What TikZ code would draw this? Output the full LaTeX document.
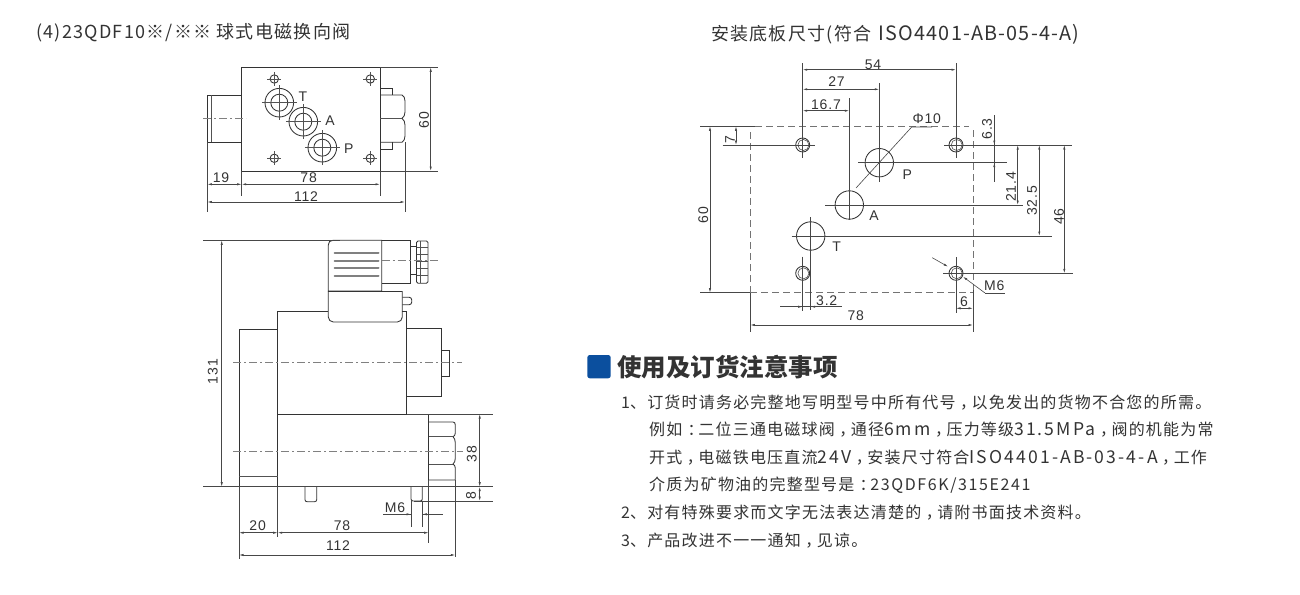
\documentclass[tikz,border=0pt]{standalone}
\usepackage{fontspec}
\usepackage{xcolor}
\setmainfont{Liberation Sans}
\newfontfamily\cjk{Noto Sans CJK SC}
\newfontfamily\cjkwide[LetterSpace=7.5]{Noto Sans CJK SC}
\newfontfamily\titlefont[LetterSpace=7]{Noto Sans CJK SC}
\newfontfamily\latwide[LetterSpace=10]{Noto Sans CJK SC}
\newfontfamily\latwider[LetterSpace=12,Scale=1.1]{Noto Sans CJK SC}
\newfontfamily\headwide[LetterSpace=6,Scale=1.1]{Noto Sans CJK SC}
\newfontfamily\dimfont[LetterSpace=6]{Liberation Sans}
\newcommand{\lat}[1]{{\latwide #1}}
\newcommand{\latb}[1]{{\latwider #1}}
\newcommand{\midcomma}{\hspace{0.28em}，\hspace{-0.28em}}
\newcommand{\midcolon}{\hspace{0.33em}：\hspace{-0.33em}}
\usetikzlibrary{arrows.meta}
\definecolor{inkgray}{HTML}{333333}
\definecolor{notice}{HTML}{0B4F9E}

\begin{document}
\begin{tikzpicture}[x=1pt,y=-1pt,
    part/.style={draw=inkgray, line width=0.85pt},
    thin part/.style={draw=inkgray!85, line width=0.6pt},
    ext/.style={draw=inkgray!90, line width=0.6pt},
    dim/.style={draw=inkgray!90, line width=0.6pt, {Latex[length=4.5pt,width=2.2pt]}-{Latex[length=4.5pt,width=2.2pt]}},
    axis/.style={draw=gray, line width=0.8pt, dash pattern=on 8pt off 3pt on 2pt off 3pt},
    hidden/.style={draw=gray!90!black, line width=0.95pt, dash pattern=on 7pt off 4pt},
    tag/.style={inner sep=0pt, text=inkgray, font=\dimfont\fontsize{14}{14}\selectfont},
    title/.style={inner sep=0pt, anchor=west, text=inkgray, font=\titlefont\fontsize{18}{18}\selectfont},
    bodyline/.style={inner sep=0pt, anchor=west, text=inkgray, font=\cjkwide\fontsize{16}{16}\selectfont}]
    \useasboundingbox (0,0) rectangle (1300,594);

    % Headings
    \node[title] (headvalve) at (36,33) {(4)23QDF10※/※※ 球式电磁换向阀};
    \node[title] (headplate) at (711,34) {安装底板尺寸(符合\hspace{2pt} {\headwide ISO4401-AB-05-4-A)}};

    % Top view of the valve
    \draw[part] (241.7,67.3) rectangle (380,171);
    \draw[part] (207.3,95) rectangle (241.7,142.3);
    \draw[thin part] (211.3,95) -- (211.3,142.3);
    \draw[axis] (203,118.3) -- (246,118.3);
    \draw[part] (380,88.3) -- (392.7,88.3) -- (392.7,95);
    \draw[part] (380,149.7) -- (392.7,149.7) -- (392.7,142.3);
    \draw[part] (380,95) -- (402,95) .. controls (404,96) and (405,98) .. (405,101) -- (405,112)
        .. controls (405,115) and (404,117) .. (402,118.3) .. controls (404,120) and (405,122) .. (405,125)
        -- (405,136) .. controls (405,139) and (404,141) .. (402,142.3) -- (380,142.3);
    \draw[thin part] (380,118.3) -- (402,118.3);
    \foreach \x/\y in {279.3/102.7, 303.3/121.7, 322.3/147.7} {
        \draw[part] (\x,\y) circle[radius=14.3];
        \draw[part] (\x,\y) circle[radius=8.5];
        \draw[thin part] (\x-17.5,\y) -- (\x+17.5,\y);
        \draw[thin part] (\x,\y-17.5) -- (\x,\y+17.5);
    }
    \foreach \x/\y in {274.3/79, 370.3/79, 274.3/158.3, 370.3/158.3} {
        \draw[part] (\x,\y) circle[radius=4.2];
        \draw[thin part] (\x-7,\y) -- (\x+7,\y);
        \draw[thin part] (\x,\y-7) -- (\x,\y+7);
    }
    \node[tag] (portT) at (303,97) {T};
    \node[tag] (portA) at (330,121) {A};
    \node[tag] (portP) at (348.7,148.7) {P};

    % Dimensions of the top view
    \draw[ext] (380,67.3) -- (438,67.3);
    \draw[ext] (380,171) -- (438,171);
    \draw[dim] (430.7,67.3) -- (430.7,171);
    \node[tag, rotate=90] (topsixty) at (424,120) {60};
    \draw[ext] (241.7,171) -- (241.7,196);
    \draw[ext] (380,171) -- (380,196);
    \draw[ext] (207.3,142.3) -- (207.3,211.7);
    \draw[ext] (405,142.3) -- (405,211.7);
    \draw[dim] (207.3,184.3) -- (241.7,184.3);
    \draw[dim] (241.7,184.3) -- (380,184.3);
    \draw[dim] (207.3,202) -- (405,202);
    \node[tag] (topnineteen) at (221,178) {19};
    \node[tag] (topbase) at (308.7,178) {78};
    \node[tag] (topwidth) at (306,196.7) {112};

    % Plug of the front view
    \draw[part] (333,240.3) -- (381.7,240.3) -- (381.7,291) -- (328.3,291) -- (328.3,245)
        .. controls (328.3,242) and (330,240.3) .. (333,240.3);
    \draw[part] (381.7,240.3) -- (410.3,240.3) -- (410.3,283.3) -- (381.7,283.3);
    \draw[part] (410.3,246.7) -- (416.5,246.7) -- (416.5,274.3) -- (410.3,274.3);
    \draw[part, rounded corners=1.5pt] (416.5,241) rectangle (428,283.3);
    \draw[thin part] (420,241) -- (420,283.3);
    \foreach \y in {247,254,261,268,275}
        \draw[thin part] (416.5,\y) -- (428,\y);
    \foreach \y in {253.3,260.7,268,275.7}
        \draw[draw=gray, line width=2pt, line cap=round] (334.5,\y) -- (378.5,\y);
    \draw[axis] (381.7,260.7) -- (438,260.7);
    \draw[part, rounded corners=5pt] (328.3,291) -- (328.3,322) -- (402.3,322) -- (402.3,291);
    \draw[part] (328.3,291) -- (402.3,291);
    \draw[part, rounded corners=2.5pt] (402.3,297.3) -- (411.7,297.3) -- (411.7,304.7) -- (402.3,304.7);

    % Coil and body of the front view
    \draw[part] (328.3,311) -- (277.7,311) -- (277.7,486.7);
    \draw[part] (402.3,311) -- (406.7,311) -- (406.7,414);
    \draw[part] (277.7,414) -- (428.7,414) -- (428.7,486.7) -- (277.7,486.7);
    \draw[part] (277.7,329.7) -- (239,329.7) -- (239,486.7);
    \draw[thin part] (239,476.7) -- (277.7,476.7);
    \draw[part] (406.7,328) -- (441.3,328) -- (441.3,396) -- (406.7,396);
    \draw[part] (441.3,350.3) -- (449.7,350.3) -- (449.7,376) -- (441.3,376);
    \draw[part] (428.7,422) -- (453,422) .. controls (454.5,422) and (455.3,423) .. (455.3,425)
        -- (455.3,433) .. controls (455.3,435) and (454.5,436) .. (453,436.7)
        .. controls (454.5,438) and (455.3,440) .. (455.3,443) -- (455.3,458)
        .. controls (455.3,461) and (454.5,463) .. (453,464)
        .. controls (454.5,465) and (455.3,466) .. (455.3,468) -- (455.3,480) -- (428.7,480);
    \draw[thin part] (428.7,436.7) -- (453,436.7);
    \draw[thin part] (428.7,464) -- (453,464);
    \draw[axis] (233,362.7) -- (462,362.7);
    \draw[axis] (233,451.3) -- (463,451.3);
    \draw[part, rounded corners=2pt] (305,486.7) -- (305,501.7) -- (316.7,501.7) -- (316.7,486.7);
    \draw[part, rounded corners=2pt] (411,486.7) -- (411,501) -- (422.3,501) -- (422.3,486.7);

    % Dimensions of the front view
    \draw[ext] (203.3,240.3) -- (340,240.3);
    \draw[ext] (203.3,486.7) -- (493.3,486.7);
    \draw[ext] (406.7,414) -- (493.3,414);
    \draw[ext] (414,501) -- (493.3,501);
    \draw[dim] (221.7,240.3) -- (221.7,486.7);
    \node[tag, rotate=90] (frontheight) at (212.7,371.7) {131};
    \draw[dim] (479.7,414) -- (479.7,486.7);
    \draw[dim] (479.7,486.7) -- (479.7,501);
    \node[tag, rotate=90] (frontbody) at (471.7,454.3) {38};
    \node[tag, rotate=90] (frontpeg) at (471,496) {8};
    \draw[ext] (411,501) -- (411,526.7);
    \draw[ext] (422.3,501) -- (422.3,526.7);
    \draw[ext] (383,514.3) -- (411,514.3);
    \draw[ext] (422.3,514.3) -- (443.3,514.3);
    \draw[ext, -{Latex[length=4.5pt,width=2.2pt]}] (403,514.3) -- (411,514.3);
    \draw[ext, -{Latex[length=4.5pt,width=2.2pt]}] (430,514.3) -- (422.3,514.3);
    \node[tag] (frontthread) at (395,507.5) {M6};
    \draw[ext] (239,486.7) -- (239,559);
    \draw[ext] (277.7,486.7) -- (277.7,536.7);
    \draw[ext] (428.7,480) -- (428.7,543.3);
    \draw[ext] (455.3,480) -- (455.3,557);
    \draw[dim] (239,532.7) -- (277.7,532.7);
    \draw[dim] (277.7,532.7) -- (428.7,532.7);
    \draw[dim] (239,555) -- (455.3,555);
    \node[tag] (frontleft) at (257.7,525.7) {20};
    \node[tag] (frontbase) at (342,525.7) {78};
    \node[tag] (frontwidth) at (338,545.7) {112};

    % Outline of the mounting plate
    \draw[hidden] (755,126.3) -- (969,126.3);
    \draw[hidden] (750.3,132) -- (750.3,292.7);
    \draw[hidden] (973,130) -- (973,290);
    \draw[hidden] (750.3,292.7) -- (973,292.7);
    \draw[ext] (700,126.3) -- (755,126.3);
    \draw[ext] (700,292.7) -- (750.3,292.7);

    % Holes of the mounting plate
    \foreach \x/\y in {802.7/145, 956/145, 802.7/273.3, 956/273.3} {
        \draw[part] (\x,\y) circle[radius=7];
        \draw[thin part] (\x+0.7,\y) circle[radius=5.5];
    }
    \foreach \x/\y in {879.3/162.7, 849.3/205, 810.7/236}
        \draw[part] (\x,\y) circle[radius=14.2];
    \node[tag] (plateP) at (907.3,174.3) {P};
    \node[tag] (plateA) at (874,216) {A};
    \node[tag] (plateT) at (836.7,246.7) {T};

    % Center lines of the holes
    \draw[ext] (722.7,145) -- (815,145);
    \draw[ext] (944,145) -- (1072,145);
    \draw[ext, line width=0.9pt] (858,162.7) -- (1007,162.7);
    \draw[ext, line width=0.9pt] (825,205) -- (1023,205);
    \draw[ext, line width=0.9pt] (791.7,236) -- (1051.7,236);
    \draw[ext, line width=0.9pt] (943,273.3) -- (1073,273.3);
    \draw[ext] (802.7,63.3) -- (802.7,158);
    \draw[ext] (956,63.3) -- (956,158);
    \draw[ext, line width=0.9pt] (879.3,83) -- (879.3,181.7);
    \draw[ext, line width=0.9pt] (849.3,98.3) -- (849.3,220);
    \draw[ext] (802.7,256.7) -- (802.7,310.7);
    \draw[ext, line width=0.9pt] (810.7,217) -- (810.7,310);
    \draw[ext] (956,257) -- (956,313);
    \draw[ext] (750.3,292.7) -- (750.3,331.7);
    \draw[ext] (973,290) -- (973,332);

    % Dimensions across the plate
    \draw[dim] (802.7,69.7) -- (956,69.7);
    \draw[dim] (802.7,89.3) -- (879.3,89.3);
    \draw[dim] (802.7,110.7) -- (849.3,110.7);
    \draw[dim] (750.3,325) -- (973,325);
    \draw[dim] (956,308.3) -- (973,308.3);
    \draw[ext] (780,306.7) -- (841.7,306.7);
    \draw[ext, -{Latex[length=4.5pt,width=2.2pt]}] (794,306.7) -- (802.7,306.7);
    \draw[ext, -{Latex[length=4.5pt,width=2.2pt]}] (819,306.7) -- (810.7,306.7);
    \node[tag] (spanouter) at (873,65) {54};
    \node[tag] (spanmid) at (836.5,81.5) {27};
    \node[tag] (spaninner) at (826,104.5) {16.7};
    \node[tag] (spanbase) at (855.7,316) {78};
    \node[tag] (spanedge) at (964,301.7) {6};
    \node[tag] (spanoffset) at (826.7,301) {3.2};

    % Dimensions up the plate
    \draw[dim] (710,126.3) -- (710,292.7);
    \draw[dim] (736,126.3) -- (736,145);
    \draw[ext] (994.3,115) -- (994.3,181.7);
    \draw[ext, -{Latex[length=4.5pt,width=2.2pt]}] (994.3,135) -- (994.3,145);
    \draw[ext, -{Latex[length=4.5pt,width=2.2pt]}] (994.3,172) -- (994.3,162.7);
    \draw[dim] (1017.7,145) -- (1017.7,205);
    \draw[dim] (1039.3,145) -- (1039.3,236);
    \draw[dim] (1064.3,145) -- (1064.3,273.3);
    \node[tag, rotate=90] (riseplate) at (703.3,215) {60};
    \node[tag, rotate=90] (riseseven) at (730,140) {7};
    \node[tag, rotate=90] (risesmall) at (987,129) {6.3};
    \node[tag, rotate=90] (riseA) at (1011,187) {21.4};
    \node[tag, rotate=90] (riseT) at (1032,201) {32.5};
    \node[tag, rotate=90] (risehole) at (1059,216.7) {46};

    % Leaders
    \draw[ext] (932,127) -- (911.7,127) -- (856,188);
    \node[tag] (leaderphi) at (926.7,119) {Φ10};
    \draw[ext, -{Latex[length=4.5pt,width=2.2pt]}] (932.3,257.7) -- (948,266.7);
    \draw[ext, -{Latex[length=4.5pt,width=2.2pt]}] (985,293) -- (963,276.7);
    \draw[ext] (985,293) -- (1005,293);
    \node[tag] (leaderthread) at (994.3,286) {M6};

    % Notes
    \fill[notice, rounded corners=2.5pt] (587.3,355) rectangle (610.7,378.3);
    \node[inner sep=0pt, anchor=west, text=inkgray, font=\cjk\fontsize{24.5}{24.5}\selectfont\bfseries] (noticehead) at (617,367) {使用及订货注意事项};
    \node[bodyline] (noteone) at (621,403) {\lat{1}、订货时请务必完整地写明型号中所有代号\midcomma 以免发出的货物不合您的所需。};
    \node[bodyline] (notetwo) at (649,430) {例如\midcolon 二位三通电磁球阀\midcomma 通径\latb{6mm}\midcomma 压力等级\latb{31.5MPa}\midcomma 阀的机能为常};
    \node[bodyline] (notethree) at (649,458) {开式\midcomma 电磁铁电压直流\latb{24V}\midcomma 安装尺寸符合\latb{ISO4401-AB-03-4-A}\midcomma 工作};
    \node[bodyline] (notefour) at (649,485) {介质为矿物油的完整型号是\midcolon\lat{23QDF6K/315E241}};
    \node[bodyline] (notefive) at (621,513) {\lat{2}、对有特殊要求而文字无法表达清楚的\midcomma 请附书面技术资料。};
    \node[bodyline] (notesix) at (621,541) {\lat{3}、产品改进不一一通知\midcomma 见谅。};
\end{tikzpicture}
\end{document}
